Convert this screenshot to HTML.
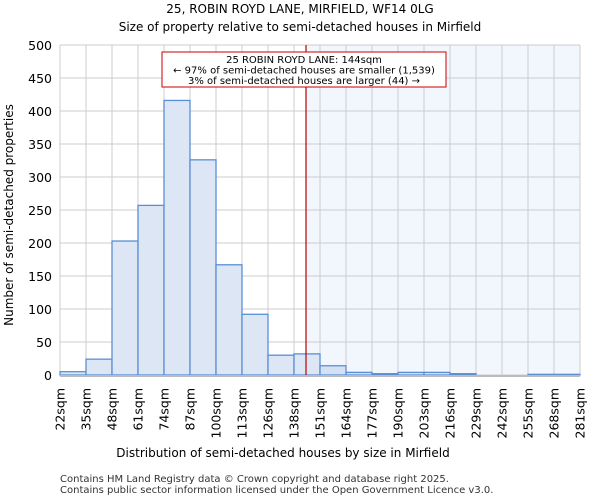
<!DOCTYPE html>
<html><head><meta charset="utf-8"><style>
body{margin:0;background:#fff;font-family:"DejaVu Sans","Liberation Sans",sans-serif}
svg text{font-family:"DejaVu Sans","Liberation Sans",sans-serif}
</style></head><body>
<svg id="chart" width="600" height="500">
<text x="300" y="13" font-size="12" text-anchor="middle">25, ROBIN ROYD LANE, MIRFIELD, WF14 0LG</text>
<text x="300" y="31" font-size="12" text-anchor="middle">Size of property relative to semi-detached houses in Mirfield</text>
<g id="plot"></g>
<text x="283" y="457" font-size="12" text-anchor="middle">Distribution of semi-detached houses by size in Mirfield</text>
<text transform="translate(13,215) rotate(-90)" font-size="12" text-anchor="middle">Number of semi-detached properties</text>
<text x="60" y="482" font-size="10" fill="#333">Contains HM Land Registry data © Crown copyright and database right 2025.</text>
<text x="60" y="493" font-size="10" fill="#333">Contains public sector information licensed under the Open Government Licence v3.0.</text>
</svg>
<script>
const categories=["22sqm","35sqm","48sqm","61sqm","74sqm","87sqm","100sqm","113sqm","126sqm","138sqm","151sqm","164sqm","177sqm","190sqm","203sqm","216sqm","229sqm","242sqm","255sqm","268sqm","281sqm"];
const counts=[5,24,203,257,416,326,167,92,30,32,14,4,2,4,4,2,0,0,1,1];
const yTicks=[0,50,100,150,200,250,300,350,400,450,500];
const binStarts=[22,35,48,61,74,87,100,113,126,138,151,164,177,190,203,216,229,242,255,268,281];
const markerValue=144;
const X0=60,X1=580,Y0=375,Y1=45,NS="http://www.w3.org/2000/svg";
const n=counts.length,bw=(X1-X0)/n;
function xIdx(i){return X0+i*bw;}
function xVal(v){for(let i=0;i<n;i++){if(v>=binStarts[i]&&v<binStarts[i+1])return xIdx(i)+(v-binStarts[i])/(binStarts[i+1]-binStarts[i])*bw;}return X1;}
function y(v){return Y0-(v/500)*(Y0-Y1);}
const g=document.getElementById('plot');
function el(t,a){const e=document.createElementNS(NS,t);for(const k in a)e.setAttribute(k,a[k]);g.appendChild(e);return e;}
const mx=xVal(markerValue);
let sh=el('rect',{x:mx,y:Y1,width:X1-mx,height:Y0-Y1,fill:'#f2f6fd'});


yTicks.forEach(t=>{
 let l=el('line',{x1:X0,x2:X1,y1:y(t),y2:y(t),stroke:'#ccc','stroke-width':1});
 
 
 let tx=el('text',{x:X0-8,y:y(t)+5,'font-size':12.5,'text-anchor':'end'});tx.textContent=t;
 
 
});
categories.forEach((c,i)=>{
 let l=el('line',{x1:xIdx(i),x2:xIdx(i),y1:Y1,y2:Y0,stroke:'#ccc','stroke-width':1});
 
 
 let tx=el('text',{transform:`translate(${xIdx(i)+4.5},388) rotate(-90)`,'font-size':12.5,'text-anchor':'end'});tx.textContent=c;
 
 
});
counts.forEach((v,i)=>{
 let r=el('rect',{x:xIdx(i),y:y(v),width:bw,height:Y0-y(v),fill:i*bw+X0<mx-1?'#dce6f4':'#d4e0f3',stroke:'#5a8fd6','stroke-width':1.3});
 
 
});
let ax=el('line',{x1:X0,x2:X1,y1:Y0+1,y2:Y0+1,stroke:'#bbb','stroke-width':2});


let ml=el('line',{x1:mx,x2:mx,y1:Y1,y2:Y0,stroke:'#b00','stroke-width':1.2});


let box=el('rect',{x:162,y:52,width:284,height:35,fill:'#fff',stroke:'#c00','stroke-width':1});


["25 ROBIN ROYD LANE: 144sqm","← 97% of semi-detached houses are smaller (1,539)","3% of semi-detached houses are larger (44) →"].forEach((s,i)=>{
 let t=el('text',{x:304,y:63+i*10.5,'font-size':10,'text-anchor':'middle'});t.textContent=s;
 
 
});
</script>
</body></html>
